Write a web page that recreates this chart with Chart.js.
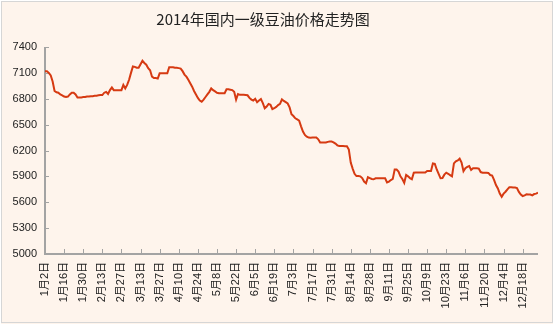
<!DOCTYPE html>
<html>
<head>
<meta charset="utf-8">
<script src="https://cdn.jsdelivr.net/npm/chart.js@4/dist/chart.umd.min.js"></script>
<style>
  html, body { margin: 0; padding: 0; background: #fff; }
  #wrap { width: 554px; height: 325px; position: relative; }
</style>
</head>
<body>
<div id="wrap"><canvas id="oil"></canvas></div>
<script>
const TITLE = '2014年国内一级豆油价格走势图';

// one label every 10 trading days
const dateLabels = ['1月2日','1月16日','1月30日','2月13日','2月27日','3月13日','3月27日','4月10日','4月24日',
  '5月8日','5月22日','6月5日','6月19日','7月3日','7月17日','7月31日','8月14日','8月28日','9月11日',
  '9月25日','10月9日','10月23日','11月6日','11月20日','12月4日','12月18日'];

const yMin = 5000, yMax = 7400, yStep = 300;

// daily price, yuan/ton
const pricesQ1 = [
  7120,7120,7100,7070,7000,6890,6875,6870,6850,6840,
  6825,6820,6825,6850,6870,6870,6850,6815,6815,6815,
  6820,6820,6825,6825,6830,6830,6835,6835,6840,6843,
  6843,6870,6880,6855,6900,6930,6900,6900,6900,6900,
  6900,6960,6920,6960,7020,7100,7175,7170,7160,7160,
  7200,7240,7215,7195,7155,7130,7056,7040,7040,7035,
  7095,7095,7095
];
const pricesQ2 = [
  7095,7095,7165,7165,7165,7160,7160,7155,7150,7120,
  7080,7056,7020,6980,6940,6890,6850,6810,6780,6766,
  6790,6820,6850,6880,6920,6900,6885,6870,6865,6865,
  6865,6865,6910,6910,6905,6900,6880,6790,6855,6845,
  6845,6845,6843,6840,6810,6790,6780,6800,6760,6780,
  6797,6750,6690,6710,6740,6730,6680,6690,6705,6727,
  6740,6793,6775,6760,6745
];
const pricesQ3 = [
  6700,6620,6600,6573,6560,6546,6480,6420,6380,6360,
  6350,6349,6350,6350,6350,6330,6292,6292,6292,6292,
  6300,6305,6304,6295,6280,6260,6252,6252,6252,6250,
  6250,6210,6060,5990,5930,5904,5904,5900,5880,5840,
  5820,5890,5880,5870,5866,5878,5878,5878,5878,5878,
  5878,5830,5840,5858,5870,5980,5980,5956,5900,5870,
  5825,5916,5900,5880,5866,5943
];
const pricesQ4 = [
  5945,5945,5945,5945,5945,5945,5962,5962,5962,6050,
  6045,5980,5930,5878,5880,5920,5943,5930,5915,5900,
  6050,6075,6085,6105,6060,5960,5995,6010,6020,5975,
  5995,5995,5995,5990,5950,5943,5943,5943,5940,5916,
  5910,5860,5800,5760,5700,5664,5700,5722,5750,5773,
  5773,5770,5770,5765,5720,5690,5672,5680,5692,5690,
  5690,5680,5695,5700,5711
];

const prices = [...pricesQ1, ...pricesQ2, ...pricesQ3, ...pricesQ4];
const points = prices.map((v, i) => ({x: i, y: v}));

const FONT = '"Liberation Sans", "Noto Sans CJK SC", sans-serif';

// background, frame, title, and axes with inward tick marks
const frame = {
  id: 'frame',
  beforeDraw(chart) {
    const {ctx, width, height} = chart;
    ctx.save();
    ctx.fillStyle = '#ffffff';
    ctx.fillRect(0, 0, width, height);
    ctx.fillStyle = '#FEF4EC';
    ctx.fillRect(1, 1, width - 2, height - 2);
    ctx.strokeStyle = '#D6D6D6';
    ctx.lineWidth = 1;
    ctx.strokeRect(1.5, 1.5, width - 3, height - 4);
    ctx.fillStyle = '#222';
    ctx.font = '15px "Noto Sans CJK SC", sans-serif';
    ctx.textAlign = 'center';
    ctx.textBaseline = 'middle';
    ctx.fillText(TITLE, 263, 19);
    ctx.restore();
  },
  beforeDatasetsDraw(chart) {
    const {ctx, chartArea: a, scales: {x, y}} = chart;
    ctx.save();
    ctx.strokeStyle = '#A3A3A3';
    ctx.lineWidth = 2;
    ctx.beginPath();
    ctx.moveTo(a.left, a.top);
    ctx.lineTo(a.left, a.bottom);
    ctx.lineTo(a.right, a.bottom);
    ctx.stroke();
    ctx.lineWidth = 1;
    ctx.beginPath();
    y.ticks.forEach(t => {
      const py = Math.round(y.getPixelForValue(t.value)) + 0.5;
      ctx.moveTo(a.left, py);
      ctx.lineTo(a.left + 4, py);
    });
    x.ticks.forEach(t => {
      if (t.value === 0) return;
      const px = Math.round(x.getPixelForValue(t.value)) + 0.5;
      ctx.moveTo(px, a.bottom);
      ctx.lineTo(px, a.bottom - 5);
    });
    ctx.stroke();
    ctx.restore();
  }
};

new Chart(document.getElementById('oil'), {
  type: 'line',
  data: {
    datasets: [{
      data: points,
      borderColor: '#D63A12',
      borderWidth: 2,
      pointRadius: 0,
      tension: 0,
      fill: false
    }]
  },
  options: {
    responsive: true,
    maintainAspectRatio: false,
    animation: false,
    layout: {padding: {top: 47, right: 16, left: 0, bottom: 0}},
    plugins: {legend: {display: false}, tooltip: {enabled: false}},
    scales: {
      x: {
        type: 'linear',
        min: 0,
        max: prices.length - 1,
        grid: {display: false, drawTicks: false},
        border: {display: false},
        afterFit: s => { s.height = 71; },
        ticks: {
          stepSize: 10,
          includeBounds: false,
          autoSkip: false,
          minRotation: 90,
          maxRotation: 90,
          padding: 8,
          color: '#222',
          font: {family: FONT, size: 11},
          callback: v => dateLabels[v / 10] ?? ''
        }
      },
      y: {
        min: yMin,
        max: yMax,
        grid: {display: false, drawTicks: false},
        border: {display: false},
        afterFit: s => { s.width = 45; },
        ticks: {
          stepSize: yStep,
          padding: 8,
          color: '#222',
          font: {family: FONT, size: 11},
          callback: v => String(v)
        }
      }
    }
  },
  plugins: [frame]
});
</script>
</body>
</html>
